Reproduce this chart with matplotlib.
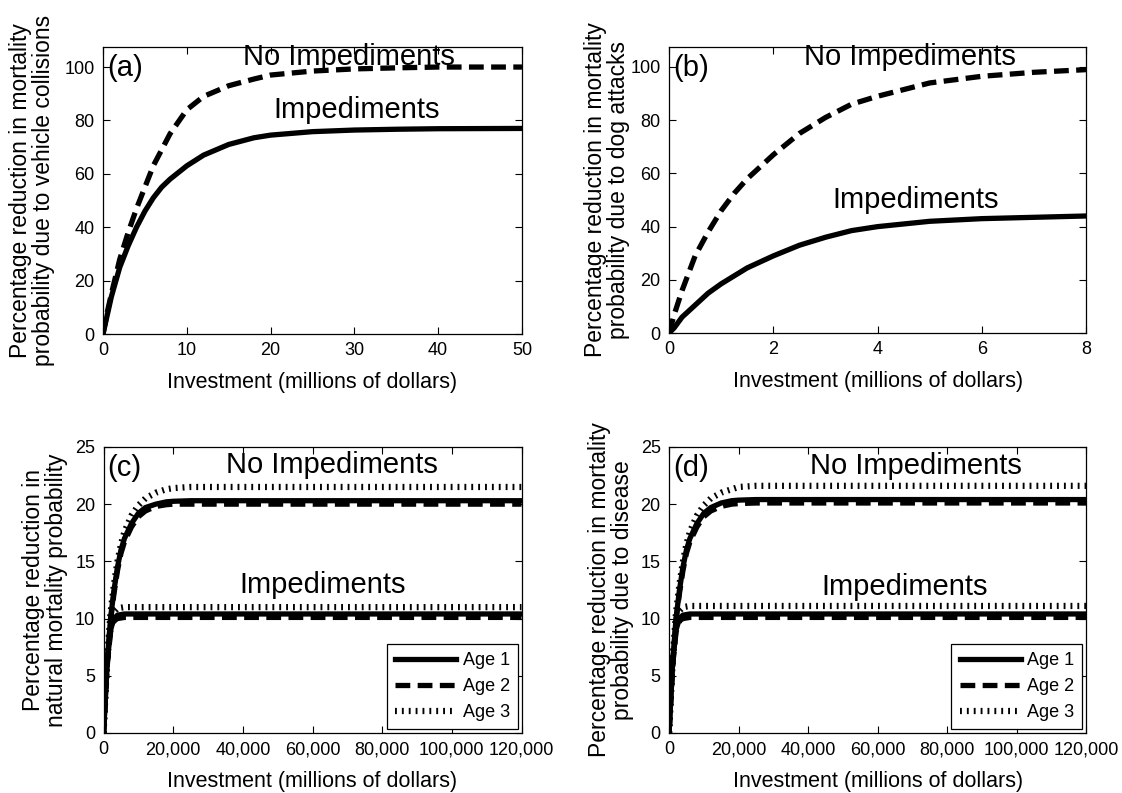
import matplotlib
matplotlib.use("Agg")
import matplotlib.pyplot as plt
from matplotlib.ticker import FuncFormatter

plt.rcParams['font.family'] = ['Liberation Sans', 'DejaVu Sans']

# (a) vehicle collisions, investment in millions of dollars
a_x = [0, 0.5, 1, 2, 3, 4, 5, 6, 7, 8, 10, 12, 15, 18, 20, 25, 30, 35, 40, 50]
a_noimp = [0, 8, 15, 28, 38, 47, 55, 63, 69, 75, 84, 89, 93, 95.5, 97, 98.5, 99.3, 99.7, 100, 100]
a_imp = [0, 7, 14, 25, 33, 40, 46, 51, 55, 58, 63, 67, 71, 73.5, 74.5, 75.8, 76.4, 76.7, 76.9, 77]

# (b) dog attacks
b_x = [0, 0.1, 0.25, 0.5, 0.75, 1, 1.25, 1.5, 2, 2.5, 3, 3.5, 4, 5, 6, 7, 8]
b_noimp = [0, 7, 16, 29, 38, 46, 52.5, 58, 67, 75, 81, 86, 89, 94, 96.5, 98, 99]
b_imp = [0, 2, 6, 10.5, 15, 18.5, 21.5, 24.5, 29, 33, 36, 38.5, 40, 42, 43, 43.5, 44]

# (c) natural mortality, three age classes
c_x = [0, 500, 1000, 2000, 3000, 4000, 5000, 6000, 8000, 10000, 12000, 15000, 18000, 20000, 25000, 40000, 120000]
c_noimp_age1 = [0, 3, 6, 10, 12.5, 14.5, 16, 17, 18.3, 19.2, 19.7, 20.0, 20.2, 20.25, 20.3, 20.3, 20.3]
c_noimp_age2 = [0, 3, 5.8, 9.8, 12.2, 14.2, 15.7, 16.7, 18.0, 18.9, 19.4, 19.8, 19.95, 20.0, 20.0, 20.0, 20.0]
c_noimp_age3 = [0, 3.2, 6.3, 10.5, 13, 15, 16.5, 17.6, 19.0, 19.9, 20.5, 21.0, 21.3, 21.4, 21.5, 21.5, 21.5]
c_imp_x = [0, 500, 1000, 2000, 3000, 4000, 6000, 120000]
c_imp_age1 = [0, 3, 6, 9, 10, 10.3, 10.4, 10.4]
c_imp_age2 = [0, 3, 5.8, 8.8, 9.8, 10.0, 10.1, 10.1]
c_imp_age3 = [0, 3.2, 6.3, 9.5, 10.6, 10.9, 11.0, 11.0]

# (d) disease
d_x = c_x
d_noimp_age1 = [0, 3, 6, 10, 12.5, 14.5, 16, 17, 18.3, 19.2, 19.7, 20.1, 20.3, 20.35, 20.4, 20.4, 20.4]
d_noimp_age2 = [0, 3, 5.8, 9.8, 12.2, 14.2, 15.7, 16.7, 18.0, 18.9, 19.4, 19.8, 20.0, 20.05, 20.1, 20.1, 20.1]
d_noimp_age3 = [0, 3.2, 6.3, 10.5, 13, 15, 16.5, 17.6, 19.0, 19.9, 20.5, 21.0, 21.3, 21.5, 21.6, 21.6, 21.6]
d_imp_x = c_imp_x
d_imp_age1 = [0, 3, 6, 9, 10, 10.3, 10.4, 10.4]
d_imp_age2 = [0, 3, 5.8, 8.8, 9.8, 10.0, 10.1, 10.1]
d_imp_age3 = [0, 3.2, 6.3, 9.5, 10.7, 11.0, 11.1, 11.1]

LW = 3.8
SOLID = dict(color='k', lw=LW, linestyle='-')
DASHED = dict(color='k', lw=LW, linestyle=(0, (2.8, 1.4)))
DOTTED = dict(color='k', lw=4.5, linestyle=(0, (0.3, 0.8)), dash_capstyle='butt')

TICK_FS = 13
XLABEL_FS = 15.5
YLABEL_FS = 16.5
NOTE_FS = 21

fig = plt.figure(figsize=(11.22, 7.93), dpi=100)
ax_a = fig.add_axes([0.0918, 0.5788, 0.3734, 0.3619])
ax_b = fig.add_axes([0.5963, 0.5800, 0.3717, 0.3607])
ax_c = fig.add_axes([0.0923, 0.0757, 0.3725, 0.3607])
ax_d = fig.add_axes([0.5963, 0.0757, 0.3717, 0.3607])


def style_axes(ax, ylab, ypad):
    ax.tick_params(direction='in', top=True, right=True, length=5, width=0.8,
                   labelsize=TICK_FS, pad=6)
    for s in ax.spines.values():
        s.set_linewidth(0.9)
    ax.set_xlabel('Investment (millions of dollars)', fontsize=XLABEL_FS, labelpad=9)
    ax.set_ylabel(ylab, fontsize=YLABEL_FS, linespacing=1.0, labelpad=ypad)


# (a)
ax_a.plot(a_x, a_noimp, **DASHED)
ax_a.plot(a_x, a_imp, **SOLID)
ax_a.set_xlim(0, 50)
ax_a.set_ylim(0, 107.5)
ax_a.set_yticks([0, 20, 40, 60, 80, 100])
ax_a.set_xticks([0, 10, 20, 30, 40, 50])
ax_a.text(29.3, 103.7, 'No Impediments', fontsize=NOTE_FS, ha='center', va='center')
ax_a.text(30.3, 84, 'Impediments', fontsize=NOTE_FS, ha='center', va='center')
ax_a.text(0.01, 0.975, '(a)', fontsize=NOTE_FS, transform=ax_a.transAxes, ha='left', va='top')
style_axes(ax_a, 'Percentage reduction in mortality\nprobability due to vehicle collisions', 7)

# (b)
ax_b.plot(b_x, b_noimp, **DASHED)
ax_b.plot(b_x, b_imp, **SOLID)
ax_b.set_xlim(0, 8)
ax_b.set_ylim(0, 107.5)
ax_b.set_yticks([0, 20, 40, 60, 80, 100])
ax_b.set_xticks([0, 2, 4, 6, 8])
ax_b.text(4.63, 103.7, 'No Impediments', fontsize=NOTE_FS, ha='center', va='center')
ax_b.text(4.73, 50, 'Impediments', fontsize=NOTE_FS, ha='center', va='center')
ax_b.text(0.01, 0.975, '(b)', fontsize=NOTE_FS, transform=ax_b.transAxes, ha='left', va='top')
style_axes(ax_b, 'Percentage reduction in mortality\nprobability due to dog attacks', 0)

thousands = FuncFormatter(lambda v, p: f'{int(v):,}')

# (c) and (d)
panels = [
    (ax_c, '(c)', c_x, c_noimp_age1, c_noimp_age2, c_noimp_age3,
     c_imp_x, c_imp_age1, c_imp_age2, c_imp_age3,
     'Percentage reduction in\nnatural mortality probability', 5, (65600, 23.4), (63000, 12.9)),
    (ax_d, '(d)', d_x, d_noimp_age1, d_noimp_age2, d_noimp_age3,
     d_imp_x, d_imp_age1, d_imp_age2, d_imp_age3,
     'Percentage reduction in mortality\nprobability due to disease', 5, (70900, 23.3), (67800, 12.8)),
]
for (ax, tag, x, n1, n2, n3, ix, i1, i2, i3, ylab, ypad, pos_n, pos_i) in panels:
    l1, = ax.plot(x, n1, label='Age 1', **SOLID)
    l2, = ax.plot(x, n2, label='Age 2', **DASHED)
    l3, = ax.plot(x, n3, label='Age 3', **DOTTED)
    ax.plot(ix, i1, **SOLID)
    ax.plot(ix, i2, **DASHED)
    ax.plot(ix, i3, **DOTTED)
    ax.set_xlim(0, 120000)
    ax.set_ylim(0, 25)
    ax.set_xticks([0, 20000, 40000, 60000, 80000, 100000, 120000])
    ax.set_yticks([0, 5, 10, 15, 20, 25])
    ax.xaxis.set_major_formatter(thousands)
    ax.text(pos_n[0], pos_n[1], 'No Impediments', fontsize=NOTE_FS, ha='center', va='center')
    ax.text(pos_i[0], pos_i[1], 'Impediments', fontsize=NOTE_FS, ha='center', va='center')
    ax.text(0.01, 0.975, tag, fontsize=NOTE_FS, transform=ax.transAxes, ha='left', va='top')
    leg = ax.legend(handles=[l1, l2, l3], loc='lower right', fontsize=13, handlelength=3.4,
                    handletextpad=0.35, borderaxespad=0.2, borderpad=0.45, labelspacing=0.5,
                    fancybox=False, framealpha=1, edgecolor='k')
    leg.get_frame().set_linewidth(0.9)
    style_axes(ax, ylab, ypad)

fig.savefig('out.png', dpi=100)
